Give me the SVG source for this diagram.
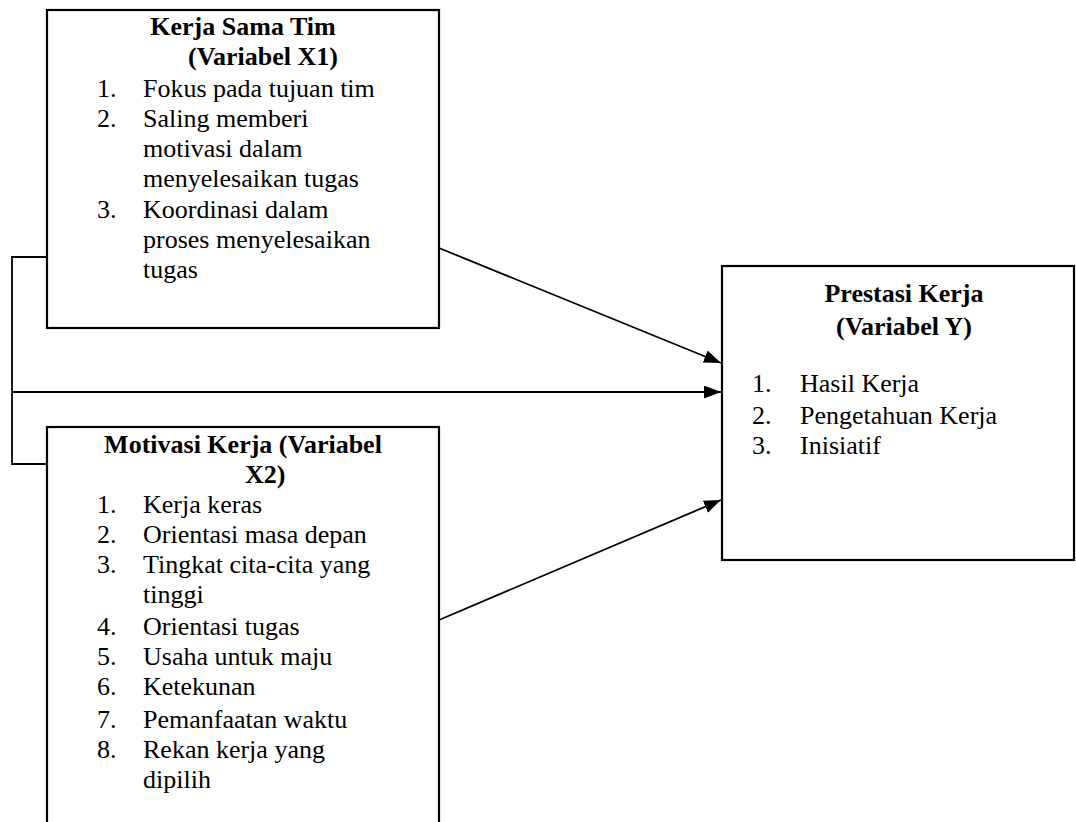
<svg xmlns="http://www.w3.org/2000/svg" width="1076" height="822" viewBox="0 0 1076 822">
<style>
  .box { fill: #ffffff; stroke: #000000; stroke-width: 2.2; }
  .t { font-family: "Liberation Serif", "Times New Roman", serif; font-size: 26px; fill: #000000; }
  .b { font-weight: bold; }
  .c { text-anchor: middle; }
  .conn { fill: none; stroke: #000000; stroke-width: 1.8; }
</style>
<defs>
  <marker id="arr" markerUnits="userSpaceOnUse" markerWidth="18" markerHeight="14" refX="17" refY="6.5" orient="auto">
    <path d="M0,0 L17,6.5 L0,13 z" fill="#000000"/>
  </marker>
</defs>
<rect x="0" y="0" width="1076" height="822" fill="#ffffff"/>

<g id="connectors">
  <path class="conn" d="M47 257 H12 V464 H47"/>
  <line class="conn" x1="12" y1="392" x2="721" y2="392" marker-end="url(#arr)"/>
  <line class="conn" x1="439" y1="248" x2="721" y2="363" marker-end="url(#arr)"/>
  <line class="conn" x1="439" y1="620" x2="721" y2="500" marker-end="url(#arr)"/>
</g>

<g id="node-x1">
  <rect class="box" x="47" y="10" width="392" height="318"/>
  <text class="t b c" x="243" y="35">Kerja Sama Tim</text>
  <text class="t b" x="188" y="65">(Variabel X1)</text>
  <text class="t" x="97" y="97">1.</text>
  <text class="t" x="143" y="97">Fokus pada tujuan tim</text>
  <text class="t" x="97" y="127">2.</text>
  <text class="t" x="143" y="127">Saling memberi</text>
  <text class="t" x="143" y="157">motivasi dalam</text>
  <text class="t" x="143" y="187">menyelesaikan tugas</text>
  <text class="t" x="97" y="218">3.</text>
  <text class="t" x="143" y="218">Koordinasi dalam</text>
  <text class="t" x="143" y="248">proses menyelesaikan</text>
  <text class="t" x="143" y="278">tugas</text>
</g>

<g id="node-x2">
  <rect class="box" x="47" y="427" width="392" height="420"/>
  <text class="t b c" x="243" y="453">Motivasi Kerja (Variabel</text>
  <text class="t b" x="245" y="483">X2)</text>
  <text class="t" x="97" y="513">1.</text>
  <text class="t" x="143" y="513">Kerja keras</text>
  <text class="t" x="97" y="543">2.</text>
  <text class="t" x="143" y="543">Orientasi masa depan</text>
  <text class="t" x="97" y="573">3.</text>
  <text class="t" x="143" y="573">Tingkat cita-cita yang</text>
  <text class="t" x="143" y="603">tinggi</text>
  <text class="t" x="97" y="635">4.</text>
  <text class="t" x="143" y="635">Orientasi tugas</text>
  <text class="t" x="97" y="665">5.</text>
  <text class="t" x="143" y="665">Usaha untuk maju</text>
  <text class="t" x="97" y="695">6.</text>
  <text class="t" x="143" y="695">Ketekunan</text>
  <text class="t" x="97" y="728">7.</text>
  <text class="t" x="143" y="728">Pemanfaatan waktu</text>
  <text class="t" x="97" y="758">8.</text>
  <text class="t" x="143" y="758">Rekan kerja yang</text>
  <text class="t" x="143" y="788">dipilih</text>
</g>

<g id="node-y">
  <rect class="box" x="722" y="266" width="352" height="294"/>
  <text class="t b c" x="904" y="302">Prestasi Kerja</text>
  <text class="t b c" x="904" y="335">(Variabel Y)</text>
  <text class="t" x="752" y="392">1.</text>
  <text class="t" x="800" y="392">Hasil Kerja</text>
  <text class="t" x="752" y="424">2.</text>
  <text class="t" x="800" y="424">Pengetahuan Kerja</text>
  <text class="t" x="752" y="454">3.</text>
  <text class="t" x="800" y="454">Inisiatif</text>
</g>
</svg>
